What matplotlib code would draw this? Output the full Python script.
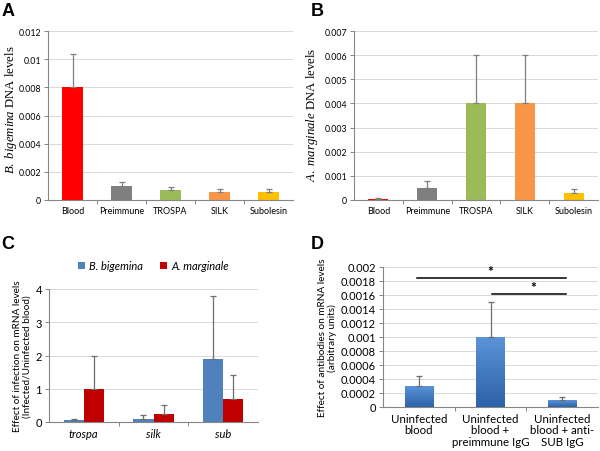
import numpy as np
import matplotlib
matplotlib.use("Agg")
import matplotlib.pyplot as plt
from matplotlib.ticker import FixedLocator

plt.rcParams['font.family'] = ['Lato', 'DejaVu Sans']
plt.rcParams['mathtext.fontset'] = 'custom'
plt.rcParams['mathtext.rm'] = 'Liberation Serif'
plt.rcParams['mathtext.it'] = 'Liberation Serif:italic'

# ---- data ----
cats_ab = ['Blood', 'Preimmune', 'TROSPA', 'SILK', 'Subolesin']
colors_ab = ['#FF0000', '#7F7F7F', '#9BBB59', '#F79646', '#FFC000']
a_vals = [0.008, 0.001, 0.0007, 0.0006, 0.0006]
a_err = [0.0024, 0.0003, 0.0002, 0.0002, 0.0002]
b_vals = [0.00005, 0.0005, 0.004, 0.004, 0.0003]
b_err = [0.00002, 0.00027, 0.002, 0.002, 0.00015]

cats_c = ['trospa', 'silk', 'sub']
c_bb = [0.05, 0.1, 1.9]
c_bb_err = [0.05, 0.1, 1.9]
c_am = [1.0, 0.25, 0.7]
c_am_err = [1.0, 0.25, 0.7]
series_c = ['B. bigemina', 'A. marginale']

cats_d = ['Uninfected\nblood', 'Uninfected\nblood +\npreimmune IgG', 'Uninfected\nblood + anti-\nSUB IgG']
d_vals = [0.0003, 0.001, 0.0001]
d_err = [0.00015, 0.0005, 0.00005]

W, H = 600, 452
fig = plt.figure(figsize=(W / 100, H / 100), dpi=100)

def rect(l, t, r, b):
    return [l / W, 1 - b / H, (r - l) / W, (b - t) / H]

GRID = '#D9D9D9'
SPINE = '#868686'

def style(ax, ymax, step, n, ytick_size, fmt='%g'):
    ax.set_xlim(-0.5, n - 0.5)
    ax.set_ylim(0, ymax)
    ticks = np.round(np.arange(0, ymax + step / 2, step), 8)
    ax.set_yticks(ticks)
    ax.set_yticklabels([fmt % t for t in ticks], fontsize=ytick_size)
    ax.yaxis.grid(True, color=GRID, lw=0.7)
    ax.set_axisbelow(True)
    for s in ['top', 'right']:
        ax.spines[s].set_visible(False)
    for s in ['left', 'bottom']:
        ax.spines[s].set_color(SPINE)
        ax.spines[s].set_linewidth(0.8)
    ax.tick_params(axis='y', length=3, color=SPINE, width=0.7, pad=2)
    ax.set_xticks(range(n))
    ax.tick_params(axis='x', which='major', length=0, pad=4)
    ax.xaxis.set_minor_locator(FixedLocator(np.arange(0.5, n - 0.5, 1)))
    ax.tick_params(axis='x', which='minor', length=3, color=SPINE, width=0.7)

def gradient_bars(ax, bars, top='#5A93D8', bottom='#2C62A8'):
    from matplotlib.colors import LinearSegmentedColormap
    cmap = LinearSegmentedColormap.from_list('g', [bottom, top])
    grad = np.linspace(0, 1, 64).reshape(-1, 1)
    for b in bars:
        x0, y0 = b.get_x(), b.get_y()
        w, h = b.get_width(), b.get_height()
        im = ax.imshow(grad, cmap=cmap, aspect='auto', origin='lower',
                       extent=[x0, x0 + w, y0, y0 + h], zorder=b.get_zorder())
        im.set_clip_path(b)
    ax.set_aspect('auto')

err_kw = dict(capsize=2, elinewidth=0.9, capthick=0.9)

# ---- A ----
axA = fig.add_axes(rect(48, 32, 293, 201))
x = np.arange(len(cats_ab))
axA.bar(x, a_vals, width=0.41, color=colors_ab,
        yerr=[np.zeros(len(a_err)), a_err], ecolor='#7F7F7F', error_kw=err_kw)
style(axA, 0.012, 0.002, 5, 6.3)
axA.set_xticklabels(cats_ab, fontsize=6.5)
axA.set_ylabel(r'$B.\ bigemina$ DNA levels', fontsize=9.2, family='Liberation Serif')
axA.yaxis.set_label_coords((19 - 48) / 245, 0.54)

# ---- B ----
axB = fig.add_axes(rect(354, 32, 598, 201))
axB.bar(x, b_vals, width=0.41, color=colors_ab,
        yerr=[np.zeros(len(b_err)), b_err], ecolor='#7F7F7F', error_kw=err_kw)
style(axB, 0.007, 0.001, 5, 6.3)
axB.set_xticklabels(cats_ab, fontsize=6.5)
axB.set_ylabel(r'$A.\ marginale$ DNA levels', fontsize=9.2, family='Liberation Serif')
axB.yaxis.set_label_coords((320 - 354) / 244, 0.51)

# ---- C ----
axC = fig.add_axes(rect(49, 290, 258, 423))
xc = np.arange(len(cats_c))
bw = 0.29
axC.bar(xc - bw / 2, c_bb, width=bw, color='#4F81BD', label=series_c[0],
        yerr=[np.zeros(3), c_bb_err], ecolor='#6E6E6E', error_kw=err_kw)
axC.bar(xc + bw / 2, c_am, width=bw, color='#C00000', label=series_c[1],
        yerr=[np.zeros(3), c_am_err], ecolor='#6E6E6E', error_kw=err_kw)
style(axC, 4, 1, 3, 8)
axC.set_xticklabels(cats_c, fontsize=8, style='italic')
axC.set_ylabel('Effect of infection on mRNA levels\n(Infected/Uninfected blood)', fontsize=7.2,
               labelpad=3, linespacing=1.05)
leg = axC.legend(loc='lower center', bbox_to_anchor=(0.5, 1.06), ncol=2, frameon=False,
                 handlelength=0.6, handleheight=0.6, handletextpad=0.4, columnspacing=1.5,
                 prop=dict(style='italic', size=8))

# ---- D ----
axD = fig.add_axes(rect(383, 268, 598, 408))
xd = np.arange(len(cats_d))
bars = axD.bar(xd, d_vals, width=0.4, color='#3E76BD',
               yerr=[np.zeros(3), d_err], ecolor='#6E6E6E', error_kw=err_kw)
gradient_bars(axD, bars)
style(axD, 0.002, 0.0002, 3, 8)
axD.set_xticklabels(cats_d, fontsize=8.3, linespacing=1.1)
axD.set_ylabel('Effect of antibodies on mRNA levels\n(arbitrary units)', fontsize=7.2,
               labelpad=3, linespacing=1.05)
axD.plot([-0.02, 2.05], [0.00185, 0.00185], color='black', lw=1.1)
axD.text(1.0, 0.00186, '*', ha='center', va='bottom', fontsize=10, fontweight='bold')
axD.plot([1.02, 2.05], [0.00162, 0.00162], color='black', lw=1.1)
axD.text(1.6, 0.00163, '*', ha='center', va='bottom', fontsize=10, fontweight='bold')

# ---- panel labels ----
for lab, px, py in [('A', 2, 3), ('B', 311, 3), ('C', 1, 236), ('D', 311, 236)]:
    fig.text(px / W, 1 - py / H, lab, fontsize=13, fontweight='bold',
             family='Liberation Sans', va='top', ha='left')

fig.savefig('out.png', dpi=100)
